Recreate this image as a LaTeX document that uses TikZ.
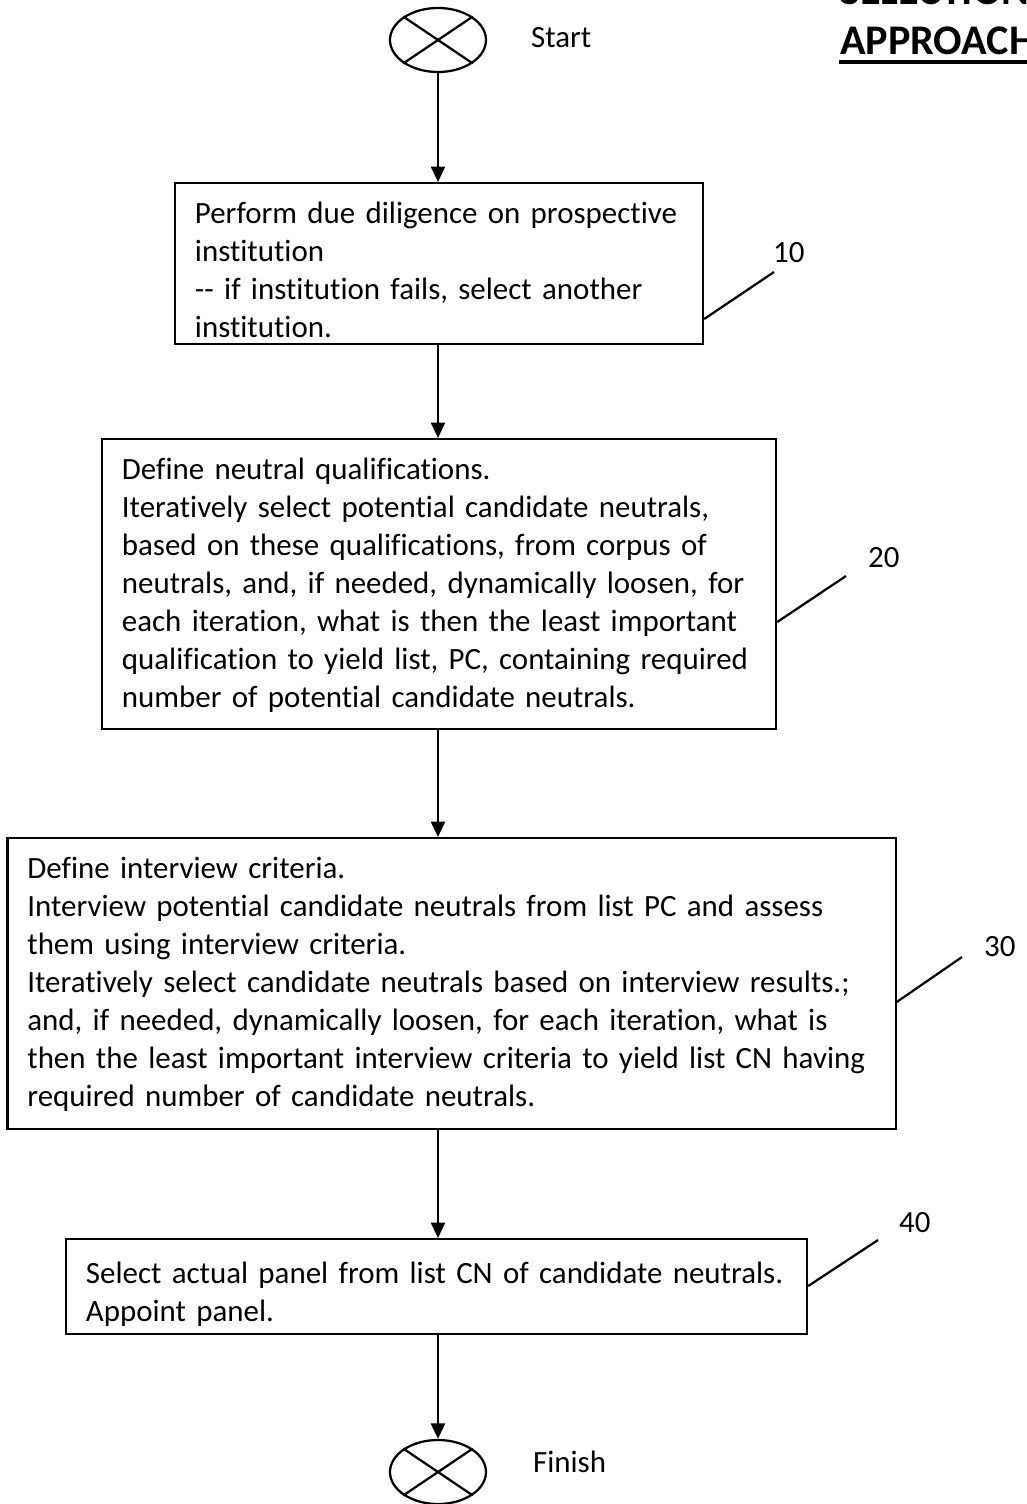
\documentclass[tikz,border=0pt]{standalone}
\usepackage{fontspec}
\setmainfont{Carlito}[Ligatures=NoCommon]
\usepackage{tikz}
\usetikzlibrary{arrows.meta, shapes.geometric, positioning, calc}

\begin{document}
\begin{tikzpicture}[x=0.025cm, y=0.025cm, line width=1.6pt,
    font=\fontsize{22}{27}\selectfont,
    box/.style={draw, rectangle, align=left, anchor=north, inner xsep=0.5cm, inner ysep=0pt},
    term/.style={draw, ellipse, minimum width=2.4cm, minimum height=1.6cm, inner sep=0pt},
    arr/.style={-{Triangle[length=11pt, width=10pt]}},
    refnum/.style={anchor=base west, inner sep=0pt}]
  \useasboundingbox (0,0) rectangle (1026,-1504);

  % title (cut at the page edge)
  \node[anchor=base west, inner sep=0pt, font=\fontsize{30}{36}\selectfont\bfseries] (t1) at (839,-5) {SELECTION};
  \node[anchor=base west, inner sep=0pt, font=\fontsize{30}{36}\selectfont\bfseries] (t2) at (839,-55) {APPROACH};
  \draw[line width=2.2pt] ($(t2.base west)+(0,-7)$) -- ($(t2.base east)+(0,-7)$);

  % start / finish
  \node[term] (start) at (438,-40) {};
  \draw (start.north west) -- (start.south east);
  \draw (start.north east) -- (start.south west);
  \node[refnum] (startlbl) at (530,-48) {Start};

  \node[term] (finish) at (438,-1472) {};
  \draw (finish.north west) -- (finish.south east);
  \draw (finish.north east) -- (finish.south west);
  \node[refnum] (finishlbl) at (532,-1472) {Finish};

  % steps
  \node[box, text width=12.2cm, minimum height=4.025cm] (b10) at (439,-182)
    {\rule{0pt}{1cm}Perform due diligence on prospective\\
     institution\\
     -{}- if institution fails, select another\\
     institution.\rule[-0.175cm]{0pt}{0.175cm}};
  \node[box, text width=15.85cm, minimum height=7.25cm] (b20) at (439,-438)
    {\rule{0pt}{1cm}Define neutral qualifications.\\
     Iteratively select potential candidate neutrals,\\
     based on these qualifications, from corpus of\\
     neutrals, and, if needed, dynamically loosen, for\\
     each iteration, what is then the least important\\
     qualification to yield list, PC, containing required\\
     number of potential candidate neutrals.\rule[-0.55cm]{0pt}{0.55cm}};
  \node[box, text width=21.2cm, minimum height=7.275cm] (b30) at (451.5,-837)
    {\rule{0pt}{1cm}Define interview criteria.\\
     Interview potential candidate neutrals from list PC and assess\\
     them using interview criteria.\\
     Iteratively select candidate neutrals based on interview results.;\\
     and, if needed, dynamically loosen, for each iteration, what is\\
     then the least important interview criteria to yield list CN having\\
     required number of candidate neutrals.\rule[-0.575cm]{0pt}{0.575cm}};
  \node[box, text width=17.525cm, minimum height=2.375cm] (b40) at (436.5,-1238)
    {\rule{0pt}{1.1cm}Select actual panel from list CN of candidate neutrals.\\
     Appoint panel.\rule[-0.325cm]{0pt}{0.325cm}};

  % flow
  \draw[arr] (start) -- (start |- b10.north);
  \draw[arr] (b10.south -| start) -- (b20.north -| start);
  \draw[arr] (b20.south -| start) -- (b30.north -| start);
  \draw[arr] (b30.south -| start) -- (b40.north -| start);
  \draw[arr] (b40.south -| start) -- (finish);

  % reference numerals
  \node[refnum] (n10) at (772,-263) {10};
  \node[refnum] (n20) at (867,-567) {20};
  \node[refnum] (n30) at (983,-956) {30};
  \node[refnum] (n40) at (898,-1232) {40};
  \coordinate (l10) at (774,-272);
  \coordinate (l20) at (846,-576);
  \coordinate (l30) at (962,-957);
  \coordinate (l40) at (878,-1240);
  \draw (b10.east |- 0,-319) -- (l10);
  \draw (b20.east |- 0,-622) -- (l20);
  \draw (b30.east |- 0,-1002) -- (l30);
  \draw (b40.east |- 0,-1286) -- (l40);
\end{tikzpicture}
\end{document}
